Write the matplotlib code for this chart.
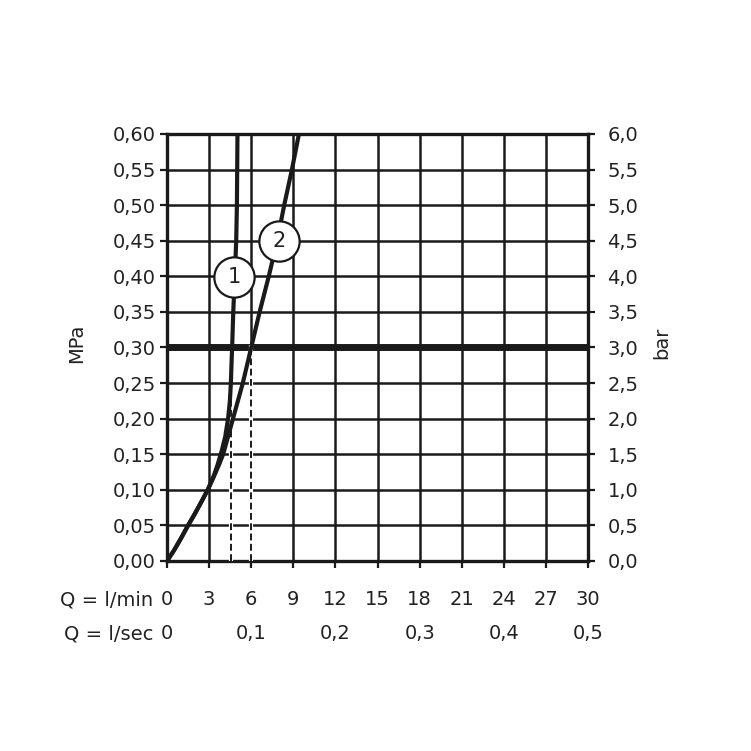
import matplotlib
matplotlib.use('Agg')
import matplotlib.pyplot as plt
import matplotlib.transforms as mtransforms

# flow in l/min, pressure in MPa
q1 = [0, 0.5, 1.0, 1.5, 2.0, 2.5, 2.9, 3.3, 3.6, 3.9, 4.15, 4.35, 4.48,
      4.55, 4.6, 4.64, 4.72, 4.83, 4.93, 4.98, 5.0, 5.02]
p1 = [0, 0.015, 0.032, 0.05, 0.067, 0.085, 0.10, 0.118, 0.135, 0.155, 0.175,
      0.20, 0.225, 0.25, 0.28, 0.30, 0.35, 0.40, 0.45, 0.50, 0.55, 0.60]

q2 = [0, 0.5, 1.0, 1.5, 2.0, 2.5, 2.9, 3.3, 3.7, 4.0, 4.35, 4.7, 5.05,
      5.4, 5.7, 6.0, 6.6, 7.25, 7.85, 8.35, 8.9, 9.4]
p2 = [0, 0.015, 0.032, 0.05, 0.067, 0.085, 0.10, 0.117, 0.135, 0.15, 0.175,
      0.20, 0.225, 0.25, 0.275, 0.30, 0.35, 0.40, 0.45, 0.50, 0.55, 0.60]

ref_pressure = 0.30
dash_q = [4.55, 6.0]
dash_p = [0.24, 0.30]

labels = ['1', '2']
label_q = [4.79, 8.0]
label_p = [0.399, 0.45]

xticks = list(range(0, 31, 3))
yticks = [i * 0.05 for i in range(13)]
ylabels_mpa = ['0,00', '0,05', '0,10', '0,15', '0,20', '0,25', '0,30',
               '0,35', '0,40', '0,45', '0,50', '0,55', '0,60']
ylabels_bar = ['0,0', '0,5', '1,0', '1,5', '2,0', '2,5', '3,0',
               '3,5', '4,0', '4,5', '5,0', '5,5', '6,0']
lsec_pos = [0, 6, 12, 18, 24, 30]
lsec_labels = ['0', '0,1', '0,2', '0,3', '0,4', '0,5']

plt.rcParams['font.family'] = ['DejaVu Sans']
FS = 14
INK = '#1a1a1a'

fig = plt.figure(figsize=(7.51, 7.51), dpi=100)
ax = fig.add_axes([0.2224, 0.2530, 0.5606, 0.5686])

ax.set_xlim(0, 30)
ax.set_ylim(0, 0.6)
ax.set_xticks(xticks)
ax.set_xticklabels([])
ax.set_yticks(yticks)
ax.set_yticklabels(ylabels_mpa, fontsize=FS, color='#222222')
ax.tick_params(axis='both', direction='out', length=5, width=1.6, color=INK)
ax.tick_params(axis='y', pad=3)
for side in ax.spines.values():
    side.set_linewidth(2.4)
    side.set_color(INK)
ax.grid(True, color=INK, linewidth=1.8)
ax.set_axisbelow(True)

ax2 = ax.twinx()
ax2.set_ylim(0, 0.6)
ax2.set_yticks(yticks)
ax2.set_yticklabels(ylabels_bar, fontsize=FS, color='#222222')
ax2.tick_params(axis='y', direction='out', length=5, width=1.6, color=INK, pad=9)
for side in ax2.spines.values():
    side.set_visible(False)

ax.axhline(ref_pressure, color=INK, linewidth=5, zorder=3)

for xq, yp in zip(dash_q, dash_p):
    ax.plot([xq, xq], [0, yp], color='white', linewidth=3, zorder=3.5)
    ax.plot([xq, xq], [0, yp], color=INK, linewidth=1.4,
            dashes=(3.5, 1.8), zorder=3.6)

ax.plot(q1, p1, color=INK, linewidth=3.0, zorder=4, solid_joinstyle='round')
ax.plot(q2, p2, color=INK, linewidth=3.0, zorder=4, solid_joinstyle='round')

for lab, xq, yp in zip(labels, label_q, label_p):
    ax.plot([xq], [yp], marker='o', markersize=29, markerfacecolor='white',
            markeredgecolor=INK, markeredgewidth=1.6, zorder=5)
    ax.text(xq, yp, lab, ha='center', va='center', fontsize=FS + 1, zorder=6,
            color='#222222')

trans = mtransforms.blended_transform_factory(ax.transData, fig.transFigure)
for xv in xticks:
    ax.text(xv, 0.1944, str(xv), transform=trans, ha='center', va='baseline',
            fontsize=FS, color='#222222')
for xv, lab in zip(lsec_pos, lsec_labels):
    ax.text(xv, 0.1491, lab, transform=trans, ha='center', va='baseline',
            fontsize=FS, color='#222222')
fig.text(0.2037, 0.1944, 'Q = l/min', ha='right', va='baseline', fontsize=FS,
         color='#222222')
fig.text(0.2037, 0.1491, 'Q = l/sec', ha='right', va='baseline', fontsize=FS,
         color='#222222')

fig.text(0.1025, 0.543, 'MPa', rotation=90, ha='center', va='center',
         fontsize=FS, color='#222222')
fig.text(0.8815, 0.543, 'bar', rotation=90, ha='center', va='center',
         fontsize=FS, color='#222222')

fig.savefig('out.png', dpi=100, facecolor='white')
